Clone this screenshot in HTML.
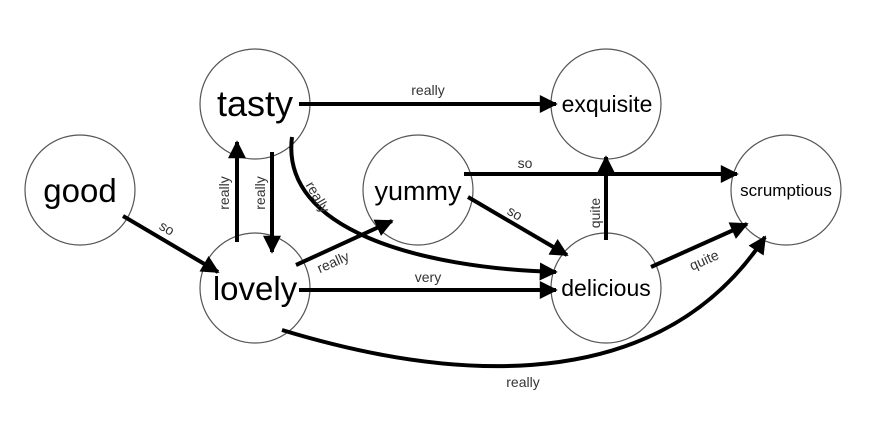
<!DOCTYPE html>
<html><head><meta charset="utf-8"><style>
html,body{margin:0;padding:0;background:#fff;}
svg{display:block;}
text{font-family:"Liberation Sans",sans-serif;}
</style></head><body>
<svg width="870" height="436" viewBox="0 0 870 436" xmlns="http://www.w3.org/2000/svg">
<defs>
<marker id="a" viewBox="0 0 10 10" refX="9" refY="5" markerWidth="5" markerHeight="4.5" markerUnits="strokeWidth" orient="auto">
<path d="M0,0 L10,5 L0,10 z" fill="#000"/></marker>
</defs>
<g fill="none" stroke="#555" stroke-width="1.2">
<circle cx="80" cy="190" r="55"/>
<circle cx="255" cy="104" r="55"/>
<circle cx="255" cy="288" r="55"/>
<circle cx="418" cy="190" r="55"/>
<circle cx="606" cy="104" r="55"/>
<circle cx="786" cy="190" r="55"/>
<circle cx="606" cy="288" r="55"/>
</g>
<g fill="none" stroke="#000" stroke-width="4" marker-end="url(#a)">
<line x1="299" y1="104" x2="556" y2="104"/>
<line x1="123" y1="216" x2="218" y2="272"/>
<line x1="237" y1="242" x2="237" y2="142"/>
<line x1="272" y1="152" x2="272" y2="252"/>
<line x1="296" y1="265" x2="392" y2="221"/>
<path d="M292,137 C280,230 420,268 556,272"/>
<line x1="299" y1="290" x2="556" y2="290"/>
<path d="M282,330 C420,372 650,412 765,237"/>
<line x1="464" y1="174" x2="737" y2="174"/>
<line x1="468" y1="197" x2="567" y2="255"/>
<line x1="606" y1="240" x2="606" y2="157"/>
<line x1="651" y1="267" x2="747" y2="224"/>
</g>
<g fill="#000" text-anchor="middle">
<text x="80" y="202" font-size="33">good</text>
<text x="255" y="116" font-size="36">tasty</text>
<text x="255" y="300" font-size="33">lovely</text>
<text x="418" y="200" font-size="27">yummy</text>
<text x="607" y="112" font-size="23">exquisite</text>
<text x="786" y="196" font-size="17">scrumptious</text>
<text x="606" y="296" font-size="23">delicious</text>
</g>
<g fill="#333" font-size="14" text-anchor="middle">
<text x="428" y="95">really</text>
<text x="167" y="233" transform="rotate(30 167 228)">so</text>
<text x="229" y="193" transform="rotate(-90 229 193)">really</text>
<text x="265" y="193" transform="rotate(-90 265 193)">really</text>
<text x="333" y="267" transform="rotate(-24 333 262)">really</text>
<text x="318" y="202" transform="rotate(60 318 197)">really</text>
<text x="428" y="282">very</text>
<text x="523" y="387">really</text>
<text x="525" y="168">so</text>
<text x="515" y="218" transform="rotate(30 515 213)">so</text>
<text x="600" y="213" transform="rotate(-90 600 213)">quite</text>
<text x="704" y="265" transform="rotate(-24 704 260)">quite</text>
</g>
</svg>
</body></html>
